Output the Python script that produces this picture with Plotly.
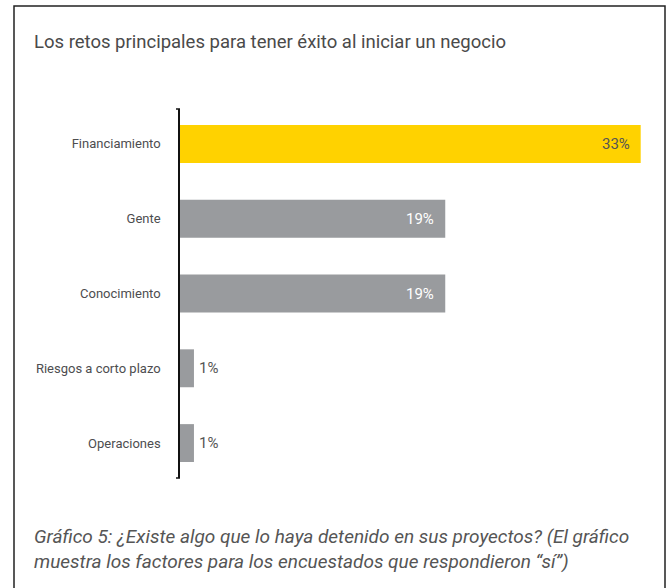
import plotly.graph_objects as go

# Chart data
categories = ["Financiamiento", "Gente", "Conocimiento", "Riesgos a corto plazo", "Operaciones"]
values = [33, 19, 19, 1, 1]
bar_colors = ["#FFD200", "#999B9E", "#999B9E", "#999B9E", "#999B9E"]
label_colors = ["#555555", "#ffffff", "#ffffff", "#ffffff", "#ffffff"]

title_text = "Los retos principales para tener éxito al iniciar un negocio"
caption_text = ("<i>Gráfico 5: ¿Existe algo que lo haya detenido en sus proyectos? (El gráfico<br>"
                "muestra los factores para los encuestados que respondieron “sí”)</i>")

W, H = 670, 588
L, R, T, B = 180, 15, 109, 110
PW, PH = W - L - R, H - T - B


def px_x(p):
    return (p - L) / PW


def px_y(p):
    return (H - B - p) / PH


fig = go.Figure(go.Bar(
    x=values,
    y=categories,
    orientation="h",
    marker=dict(color=bar_colors, line=dict(width=0)),
    hoverinfo="skip",
))

# Value labels: inside the bar end when there is room, just past it otherwise
annotations = []
for cat, v, c in zip(categories, values, label_colors):
    inside = v >= 5
    annotations.append(dict(
        x=v, y=cat, xref="x", yref="y",
        text=f"{v}%",
        showarrow=False,
        xanchor="right" if inside else "left",
        xshift=-9 if inside else 3,
        font=dict(family="Roboto", size=15, color=c if inside else "#555555"),
    ))

annotations.append(dict(
    x=px_x(32), y=px_y(42), xref="paper", yref="paper",
    text=title_text, showarrow=False, xanchor="left", yanchor="middle",
    font=dict(family="Roboto", size=18.5, color="#4a4a4a"),
))
annotations.append(dict(
    x=px_x(32), y=px_y(549), xref="paper", yref="paper",
    text=caption_text, showarrow=False, xanchor="left", yanchor="middle", align="left",
    font=dict(family="Roboto", size=19, color="#555555"),
))

shapes = [
    # outer frame (open at the bottom edge of the page)
    dict(type="rect", xref="paper", yref="paper",
         x0=px_x(14), x1=px_x(665), y0=px_y(620), y1=px_y(6),
         line=dict(color="#222222", width=1.5)),
    # bracket caps at the ends of the category axis
    dict(type="line", xref="paper", yref="paper",
         x0=px_x(176), x1=px_x(180), y0=1, y1=1, line=dict(color="#111111", width=1.5)),
    dict(type="line", xref="paper", yref="paper",
         x0=px_x(176), x1=px_x(180), y0=0, y1=0, line=dict(color="#111111", width=1.5)),
]

fig.update_layout(
    width=W, height=H,
    margin=dict(l=L, r=R, t=T, b=B),
    paper_bgcolor="white", plot_bgcolor="white",
    bargap=0.493,
    showlegend=False,
    annotations=annotations,
    shapes=shapes,
    xaxis=dict(range=[0, PW / (460.7 / 33)], visible=False, fixedrange=True),
    yaxis=dict(
        categoryorder="array", categoryarray=categories,
        range=[4.467, -0.467],
        showline=True, linecolor="#111111", linewidth=1.5,
        showgrid=False, zeroline=False, ticks="",
        ticklabelstandoff=15,
        tickfont=dict(family="Roboto", size=13, color="#4d4d4f"),
        fixedrange=True,
    ),
)

fig.write_html("out.html")
